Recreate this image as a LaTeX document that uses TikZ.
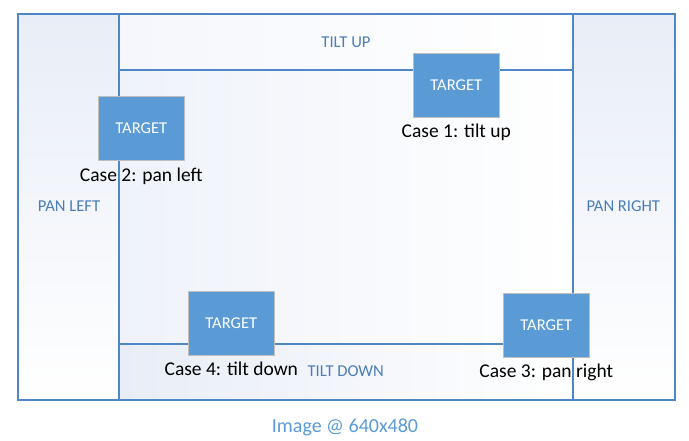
\documentclass[tikz,border=0pt]{standalone}
\usepackage{fontspec}
\setmainfont{Carlito}
\usepackage{tikz}
\usetikzlibrary{positioning, shadows}
\definecolor{frameblue}{HTML}{4F87C6}
\definecolor{zoneblue}{HTML}{4A7EBB}
\definecolor{targetblue}{HTML}{5B9BD5}
\definecolor{paleblue}{HTML}{E8EDF7}

\begin{document}
\begin{tikzpicture}[x=1pt, y=-1pt,
    target/.style={draw=black!25, line width=0.6pt, fill=targetblue, text=white,
        minimum width=86pt, minimum height=63.5pt, inner sep=0pt,
        font=\fontsize{16.5}{18}\selectfont,
        drop shadow={opacity=0.15, shadow xshift=0.8pt, shadow yshift=-0.8pt}},
    caselabel/.style={inner sep=0pt, font=\fontsize{19.5}{22}\selectfont},
    zone/.style={text=zoneblue, inner sep=0pt, font=\fontsize{16.6}{18}\selectfont},
    border/.style={frameblue, line width=1.2pt}]

                            % Page
                            \useasboundingbox (0,0) rectangle (689,441);

                            % Shaded zones
                            \shade[top color=paleblue, bottom color=white] (18,14) rectangle (119,400);
                            \shade[top color=paleblue, bottom color=white] (573,14) rectangle (675,400);
                            \shade[left color=paleblue!45, right color=white] (119,14) rectangle (573,70);
                            \shade[left color=paleblue!70, right color=white] (119,70) rectangle (573,344);
                            \shade[left color=paleblue, right color=white] (119,344) rectangle (573,400);

                            % Frame and borders
                            \draw[border] (18,14) rectangle (675,400);
                            \draw[border] (119,14) -- (119,400);
                            \draw[border] (573,14) -- (573,400);
                            \draw[border] (119,70) -- (573,70);
                            \draw[border] (119,344) -- (573,344);

                            % Zone names
                            \node[zone] (tiltup) at (346,42) {TILT UP};
                            \node[zone] (panleft) at (69,206.5) {PAN LEFT};
                            \node[zone] (panright) at (623.3,206.5) {PAN RIGHT};
                            \node[zone] (tiltdown) at (345.7,371) {TILT DOWN};

                            % Targets
                            \node[target] (t1) at (456.3,85.2) {TARGET};
                            \node[target] (t2) at (141.3,128.5) {TARGET};
                            \node[target] (t3) at (546.3,325.2) {TARGET};
                            \node[target] (t4) at (231.3,323.3) {TARGET};

                            % Cases
                            \node[caselabel, below=7pt of t1] (c1) {Case 1: tilt up};
                            \node[caselabel, below=7.5pt of t2] (c2) {Case 2: pan left};
                            \node[caselabel, below=7pt of t3] (c3) {Case 3: pan right};
                            \node[caselabel, below=6.5pt of t4] (c4) {Case 4: tilt down};

                            % Caption
                            \node[text=targetblue, inner sep=0pt, anchor=base,
                                font=\fontsize{20}{24}\selectfont] (caption) at (345,432) {Image @ 640x480};

                        \end{tikzpicture}
\end{document}
